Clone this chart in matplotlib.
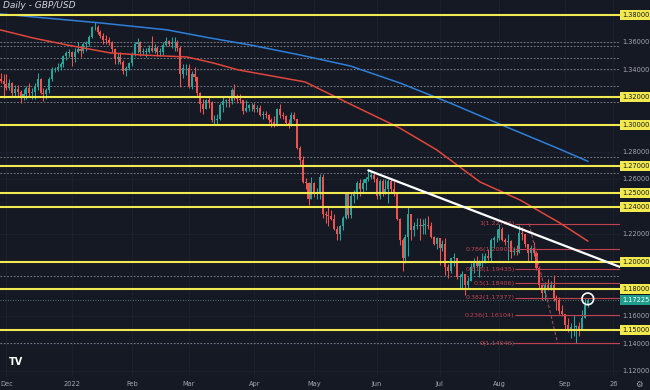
import numpy as np
import pandas as pd
import matplotlib
matplotlib.use("Agg")
import matplotlib.pyplot as plt
from matplotlib.transforms import blended_transform_factory

# daily GBP/USD candles, 29 Nov 2021 .. 13 Sep 2022 (open = previous close)
DATES = pd.bdate_range("2021-11-29", "2022-09-13")
FIRST_OPEN = 1.3330
CLOSE = [
    1.3315, 1.3297,
    # Dec
    1.3270, 1.3300, 1.3232, 1.3260, 1.3239, 1.3196, 1.3221, 1.3267, 1.3234, 1.3238, 1.3273, 1.3330,
    1.3233, 1.3222, 1.3250, 1.3330, 1.3400, 1.3400, 1.3420, 1.3440, 1.3497, 1.3520, 1.3530,
    # Jan
    1.3490, 1.3533, 1.3550, 1.3535, 1.3590, 1.3590, 1.3640, 1.3710, 1.3714, 1.3676, 1.3645,
    1.3620, 1.3618, 1.3597, 1.3550, 1.3480, 1.3495, 1.3460, 1.3390, 1.3410, 1.3447,
    # Feb
    1.3514, 1.3590, 1.3600, 1.3530, 1.3530, 1.3530, 1.3560, 1.3540, 1.3560, 1.3530,
    1.3530, 1.3580, 1.3610, 1.3590, 1.3597, 1.3600, 1.3560, 1.3370, 1.3410, 1.3410,
    # Mar
    1.3280, 1.3370, 1.3350, 1.3230, 1.3150, 1.3110, 1.3180, 1.3160, 1.3030, 1.3030, 1.3040, 1.3140,
    1.3170, 1.3180, 1.3170, 1.3250, 1.3200, 1.3190, 1.3180, 1.3100, 1.3120, 1.3140, 1.3140,
    # Apr
    1.3110, 1.3120, 1.3070, 1.3075, 1.3070, 1.3030, 1.3020, 1.3000, 1.3110, 1.3070, 1.3060,
    1.3010, 1.3000, 1.3070, 1.3040, 1.2830, 1.2740, 1.2580, 1.2570, 1.2460, 1.2570,
    # May
    1.2490, 1.2490, 1.2620, 1.2350, 1.2340, 1.2330, 1.2310, 1.2240, 1.2200, 1.2260, 1.2315,
    1.2490, 1.2340, 1.2480, 1.2490, 1.2570, 1.2530, 1.2570, 1.2600, 1.2620, 1.2630, 1.2600,
    # Jun
    1.2480, 1.2590, 1.2490, 1.2530, 1.2590, 1.2530, 1.2490, 1.2310, 1.2160, 1.2030, 1.2180,
    1.2350, 1.2230, 1.2260, 1.2270, 1.2260, 1.2270, 1.2270, 1.2260, 1.2180, 1.2130, 1.2170,
    # Jul
    1.2100, 1.2130, 1.1960, 1.1930, 1.2030, 1.2030, 1.1890, 1.1890, 1.1910, 1.1830, 1.1860,
    1.1960, 1.1990, 1.1970, 1.2000, 1.2000, 1.2040, 1.2030, 1.2160, 1.2170, 1.2170,
    # Aug
    1.2240, 1.2160, 1.2140, 1.2150, 1.2070, 1.2080, 1.2070, 1.2210, 1.2200, 1.2130, 1.2060, 1.2100,
    1.2060, 1.1950, 1.1830, 1.1770, 1.1830, 1.1800, 1.1830, 1.1730, 1.1720, 1.1640, 1.1620,
    # Sep
    1.1540, 1.1510, 1.1520, 1.1520, 1.1530, 1.1500, 1.1590, 1.1680, 1.1722,
]
HIGH = [
    1.3375, 1.3370,
    1.3370, 1.3330, 1.3310, 1.3290, 1.3290, 1.3250, 1.3260, 1.3280, 1.3300, 1.3270, 1.3300, 1.3375,
    1.3340, 1.3270, 1.3270, 1.3350, 1.3420, 1.3420, 1.3450, 1.3460, 1.3510, 1.3540, 1.3550,
    1.3540, 1.3560, 1.3600, 1.3570, 1.3600, 1.3610, 1.3650, 1.3720, 1.3749, 1.3730, 1.3690,
    1.3670, 1.3650, 1.3640, 1.3610, 1.3560, 1.3520, 1.3530, 1.3470, 1.3430, 1.3460,
    1.3530, 1.3600, 1.3630, 1.3610, 1.3560, 1.3560, 1.3580, 1.3643, 1.3590, 1.3570,
    1.3560, 1.3600, 1.3640, 1.3620, 1.3640, 1.3640, 1.3620, 1.3570, 1.3440, 1.3440,
    1.3440, 1.3390, 1.3420, 1.3350, 1.3240, 1.3190, 1.3190, 1.3200, 1.3170, 1.3070, 1.3080, 1.3160,
    1.3200, 1.3190, 1.3200, 1.3270, 1.3298, 1.3220, 1.3220, 1.3180, 1.3180, 1.3150, 1.3160,
    1.3160, 1.3140, 1.3140, 1.3100, 1.3100, 1.3080, 1.3050, 1.3060, 1.3120, 1.3150, 1.3090,
    1.3070, 1.3040, 1.3090, 1.3090, 1.3040, 1.2840, 1.2770, 1.2610, 1.2580, 1.2620,
    1.2580, 1.2540, 1.2640, 1.2640, 1.2370, 1.2400, 1.2380, 1.2350, 1.2260, 1.2270, 1.2330,
    1.2500, 1.2500, 1.2500, 1.2520, 1.2590, 1.2600, 1.2600, 1.2620, 1.2666, 1.2660, 1.2650,
    1.2620, 1.2600, 1.2600, 1.2600, 1.2600, 1.2600, 1.2590, 1.2500, 1.2320, 1.2170, 1.2200,
    1.2400, 1.2350, 1.2290, 1.2320, 1.2320, 1.2310, 1.2320, 1.2330, 1.2290, 1.2190, 1.2180,
    1.2170, 1.2160, 1.2170, 1.1980, 1.2030, 1.2060, 1.2030, 1.1910, 1.1930, 1.1910, 1.1890,
    1.1990, 1.2030, 1.2040, 1.2010, 1.2060, 1.2060, 1.2090, 1.2170, 1.2190, 1.2240,
    1.2277, 1.2250, 1.2170, 1.2200, 1.2160, 1.2110, 1.2120, 1.2270, 1.2250, 1.2200, 1.2130, 1.2120,
    1.2140, 1.2080, 1.1970, 1.1840, 1.1850, 1.1870, 1.1860, 1.1900, 1.1760, 1.1740, 1.1680,
    1.1620, 1.1590, 1.1550, 1.1610, 1.1540, 1.1560, 1.1650, 1.1738, 1.1738,
]
LOW = [
    1.3300, 1.3195,
    1.3250, 1.3250, 1.3210, 1.3210, 1.3210, 1.3160, 1.3180, 1.3190, 1.3210, 1.3190, 1.3190, 1.3250,
    1.3220, 1.3170, 1.3190, 1.3230, 1.3320, 1.3380, 1.3390, 1.3400, 1.3420, 1.3470, 1.3490,
    1.3430, 1.3460, 1.3520, 1.3490, 1.3520, 1.3540, 1.3570, 1.3630, 1.3690, 1.3660, 1.3630,
    1.3590, 1.3590, 1.3580, 1.3530, 1.3440, 1.3440, 1.3440, 1.3370, 1.3358, 1.3400,
    1.3430, 1.3500, 1.3520, 1.3500, 1.3510, 1.3490, 1.3520, 1.3530, 1.3520, 1.3500,
    1.3500, 1.3510, 1.3570, 1.3570, 1.3560, 1.3540, 1.3540, 1.3272, 1.3340, 1.3360,
    1.3270, 1.3260, 1.3320, 1.3210, 1.3090, 1.3080, 1.3110, 1.3120, 1.3020, 1.3000, 1.3000, 1.3030,
    1.3090, 1.3130, 1.3130, 1.3150, 1.3180, 1.3160, 1.3160, 1.3080, 1.3090, 1.3100, 1.3100,
    1.3090, 1.3090, 1.3060, 1.3040, 1.3050, 1.3010, 1.2980, 1.2980, 1.2990, 1.3050, 1.3040,
    1.3000, 1.2975, 1.2990, 1.3030, 1.2820, 1.2700, 1.2570, 1.2530, 1.2411, 1.2460,
    1.2470, 1.2460, 1.2460, 1.2320, 1.2280, 1.2260, 1.2300, 1.2230, 1.2160, 1.2155, 1.2230,
    1.2310, 1.2320, 1.2320, 1.2430, 1.2460, 1.2480, 1.2500, 1.2520, 1.2590, 1.2600, 1.2580,
    1.2460, 1.2460, 1.2480, 1.2490, 1.2430, 1.2510, 1.2480, 1.2300, 1.2120, 1.1934, 1.1990,
    1.2040, 1.2160, 1.2190, 1.2240, 1.2160, 1.2200, 1.2200, 1.2240, 1.2170, 1.2120, 1.2090,
    1.1975, 1.2080, 1.1900, 1.1880, 1.1920, 1.1970, 1.1870, 1.1810, 1.1810, 1.1760, 1.1810,
    1.1860, 1.1920, 1.1960, 1.1890, 1.1960, 1.1990, 1.2010, 1.2000, 1.2100, 1.2140,
    1.2160, 1.2150, 1.2120, 1.2010, 1.2030, 1.2050, 1.2050, 1.2060, 1.2160, 1.2110, 1.2000, 1.2010,
    1.2040, 1.1940, 1.1800, 1.1720, 1.1720, 1.1790, 1.1790, 1.1710, 1.1650, 1.1620, 1.1600,
    1.1500, 1.1490, 1.1440, 1.1460, 1.1405, 1.1460, 1.1500, 1.1590, 1.1670,
]

# moving averages (vertices, x = trading-day index)
MA200_X = [0, 34.8, 58.4, 73.4, 87.5, 105, 122.6, 140, 157.6, 175, 196, 206]
MA200 = [1.3807, 1.3742, 1.3691, 1.3632, 1.3581, 1.3508, 1.3428, 1.3304, 1.3158, 1.3004, 1.2822, 1.2732]
MA100_X = [0, 11.3, 23.3, 38.4, 49, 65.4, 74.5, 83.3, 106.8, 122.6, 140, 153, 168.2, 182.2, 196.2, 206]
MA100 = [1.3690, 1.3632, 1.3581, 1.3523, 1.3508, 1.3493, 1.3450, 1.3399, 1.3311,
         1.3150, 1.2975, 1.2815, 1.2581, 1.2450, 1.2282, 1.2150]

TREND_X = [129, 217.3]
TREND = [1.2666, 1.1961]
FIB_DIAG_X = [185.4, 195.4]
FIB_DIAG = [1.2277, 1.1405]

YELLOW_LEVELS = [1.38, 1.32, 1.30, 1.27, 1.25, 1.24, 1.20, 1.18, 1.15]
GREY_LEVELS = [1.3601, 1.3574, 1.3484, 1.3406, 1.3282, 1.3163, 1.2766, 1.2645, 1.1895, 1.1405]
AXIS_TICKS = [1.36, 1.34, 1.28, 1.26, 1.22, 1.16, 1.14, 1.12]
FIB_RATIOS = ["1", "0.786", "0.618", "0.5", "0.382", "0.236", "0"]
FIB_PRICES = [1.22766, 1.20900, 1.19435, 1.18406, 1.17377, 1.16104, 1.14046]
LAST_PRICE = 1.17225

BG = "#151924"
UP, DOWN = "#26a69a", "#ef5350"
YELLOW = "#f2e94e"
FIB_RED = "#c2434f"
TEXT = "#a3a6af"

X_MIN, X_MAX = -0.25, 217.3
Y_MIN, Y_MAX = 1.1158, 1.3909


def main() -> None:
    fig = plt.figure(figsize=(6.5, 3.9), dpi=100, facecolor=BG)
    ax = fig.add_axes([0, 13 / 390, 620 / 650, 377 / 390], facecolor=BG)
    ax.set_xlim(X_MIN, X_MAX)
    ax.set_ylim(Y_MIN, Y_MAX)
    for s in ax.spines.values():
        s.set_visible(False)
    ax.set_xticks([])
    ax.set_yticks([])

    # month starts for grid + time axis
    month_idx, month_lab = [], []
    for i, d in enumerate(DATES):
        if i > 0 and d.month != DATES[i - 1].month:
            month_idx.append(i)
            month_lab.append("2022" if d.month == 1 else d.strftime("%b"))
    future_idx = len(pd.bdate_range("2021-11-29", "2022-09-26")) - 1

    for m in month_idx + [future_idx]:
        ax.axvline(m, color="#1d2130", lw=0.6, zorder=0)
    for t in np.arange(1.12, 1.39, 0.02):
        ax.axhline(t, color="#1d2130", lw=0.6, zorder=0)

    # candles
    close = np.array(CLOSE)
    opens = np.array([FIRST_OPEN] + CLOSE[:-1])
    idx = np.arange(len(close))
    colors = np.where(close >= opens, UP, DOWN)
    ax.vlines(idx, LOW, HIGH, colors=colors, lw=0.75, zorder=2)
    bottoms = np.minimum(opens, close)
    heights = np.maximum(np.abs(close - opens), 0.0004)
    ax.bar(idx, heights, bottom=bottoms, width=0.72, color=colors, zorder=2)

    # horizontal levels
    ax.hlines(GREY_LEVELS, X_MIN, X_MAX, colors="#8a8d96", lw=0.6,
              linestyles=(0, (2, 2)), zorder=1)
    ax.axhline(LAST_PRICE, color="#6f8f8c", lw=0.6, ls=(0, (1, 2)), zorder=1)
    ax.hlines(YELLOW_LEVELS, X_MIN, X_MAX, colors=YELLOW, lw=1.5, zorder=4)

    # fibonacci retracement
    ax.hlines(FIB_PRICES, 180.6, X_MAX, colors=FIB_RED, lw=0.8, zorder=3)
    for r, p in zip(FIB_RATIOS, FIB_PRICES):
        ax.text(180.3, p, f"{r}({p:.5f})", ha="right", va="center",
                fontsize=4.6, color=FIB_RED, zorder=5)
    ax.plot(FIB_DIAG_X, FIB_DIAG, color="#9a4b57", lw=0.8, ls=(0, (3, 2)), zorder=3)

    # moving averages and trend line
    ax.plot(MA200_X, MA200, color="#2f7fd8", lw=1.1, zorder=3)
    ax.plot(MA100_X, MA100, color="#e0463c", lw=1.1, zorder=3)
    ax.plot(TREND_X, TREND, color="white", lw=1.6, zorder=5, solid_capstyle="round")

    ax.scatter([206], [1.1728], s=70, facecolor="none", edgecolor="white", lw=1.2, zorder=6)

    # price axis
    ytr = blended_transform_factory(ax.transAxes, ax.transData)
    xpos = 636 / 620
    for p in YELLOW_LEVELS:
        ax.text(xpos, p, f"{p:.5f}", transform=ytr, ha="center", va="center",
                fontsize=4.8, color="#131722", clip_on=False,
                bbox=dict(boxstyle="square,pad=0.3", fc=YELLOW, ec="none"))
    for p in AXIS_TICKS:
        ax.text(xpos, p, f"{p:.5f}", transform=ytr, ha="center", va="center",
                fontsize=4.8, color=TEXT, clip_on=False)
    ax.text(xpos, LAST_PRICE, f"{LAST_PRICE:.5f}", transform=ytr, ha="center",
            va="center", fontsize=4.8, color="white", clip_on=False,
            bbox=dict(boxstyle="square,pad=0.3", fc="#1f9e8e", ec="none"))

    # time axis
    xtr = blended_transform_factory(ax.transData, fig.transFigure)
    for m, lab in zip(month_idx + [future_idx], month_lab + ["26"]):
        ax.text(m, 1 - 384 / 390, lab, transform=xtr, ha="center", va="center",
                fontsize=4.8, color=TEXT, clip_on=False)
    fig.text(639 / 650, 1 - 384 / 390, "\u2699", ha="center", va="center",
             fontsize=6, color=TEXT)

    fig.text(3 / 650, 1 - 6 / 390, "Daily - GBP/USD", ha="left", va="center",
             fontsize=6.5, color="#d1d4dc", style="italic")
    fig.text(16 / 650, 1 - 362 / 390, "TV", ha="center", va="center",
             fontsize=7, color="white", weight="bold")

    fig.savefig("out.png", dpi=100, facecolor=BG)


if __name__ == "__main__":
    main()
